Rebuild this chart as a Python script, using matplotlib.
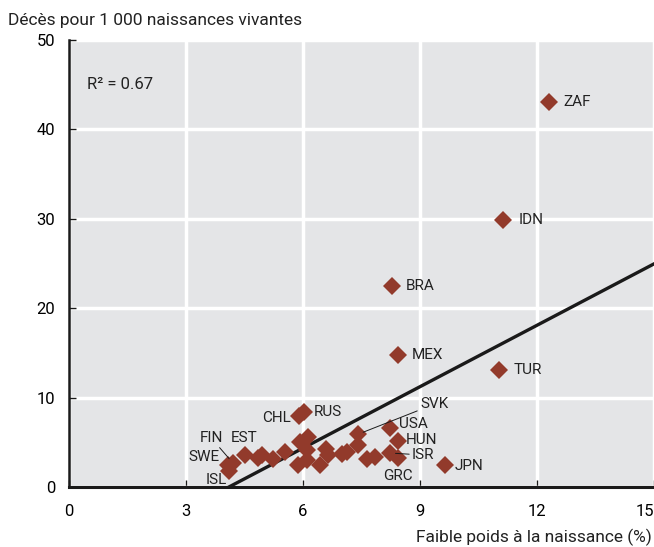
import matplotlib.pyplot as plt
import numpy as np

plt.rcParams['font.family'] = ['Roboto', 'DejaVu Sans']

# faible poids a la naissance (%) / mortalite infantile (deces pour 1 000)
pays = ["ISL", "SWE", "FIN", "EST", "", "", "", "", "", "", "", "", "",
        "CHL", "RUS", "", "", "", "", "", "SVK", "", "", "",
        "USA", "HUN", "ISR", "GRC", "JPN", "BRA", "MEX", "TUR", "IDN", "ZAF"]
lbw = np.array([4.1, 4.08, 4.2, 4.5, 4.85, 4.95, 5.23, 5.54, 5.87, 5.92, 6.13, 6.1, 6.1,
                5.9, 6.03, 6.44, 6.6, 6.64, 7.0, 7.13, 7.41, 7.41, 7.64, 7.85,
                8.23, 8.44, 8.23, 8.44, 9.64, 8.28, 8.44, 11.03, 11.13, 12.31])
mort = np.array([1.8, 2.46, 2.7, 3.6, 3.2, 3.6, 3.1, 3.9, 2.46, 5.0, 5.6, 4.1, 3.0,
                 7.9, 8.4, 2.46, 4.25, 3.6, 3.7, 3.9, 5.9, 4.7, 3.1, 3.36,
                 6.6, 5.15, 3.8, 3.24, 2.46, 22.5, 14.77, 13.09, 29.87, 43.07])

pente = 2.29
ordonnee = -9.39

# decalage des etiquettes en pixels (dx, dy, alignement)
decal = {"ISL": (-2, -9, 'right'), "SWE": (-9, 8, 'right'), "FIN": (-10, 25, 'right'),
         "EST": (0, 17, 'center'), "CHL": (-8, -2, 'right'), "RUS": (10, 0, 'left'),
         "SVK": (62, 30, 'left'), "USA": (9, 4, 'left'), "HUN": (8, 1, 'left'),
         "ISR": (22, -2, 'left'), "GRC": (0, -18, 'center'), "JPN": (10, -1, 'left'),
         "BRA": (14, 0, 'left'), "MEX": (14, 0, 'left'), "TUR": (14, 0, 'left'),
         "IDN": (16, 0, 'left'), "ZAF": (14, 0, 'left')}
rappel = ["FIN", "SVK", "ISR"]
px = 72 / 100

fig = plt.figure(figsize=(6.54, 5.47), dpi=100)
ax = fig.add_axes([69/654, 1-487/547, 1-69/654, 447/547])
ax.set_facecolor('#e4e5e7')

ax.set_xlim(0, 15)
ax.set_ylim(0, 50)
ax.set_xticks([0, 3, 6, 9, 12, 15])
ax.set_yticks([0, 10, 20, 30, 40, 50])
ax.grid(True, color='white', linewidth=2.5)
ax.set_axisbelow(True)
for s in ['top', 'right']:
    ax.spines[s].set_visible(False)
ax.spines['bottom'].set_linewidth(2.2)
ax.spines['left'].set_linewidth(1.8)
ax.spines['bottom'].set_color('#1a1a1a')
ax.spines['left'].set_color('#1a1a1a')
ax.tick_params(axis='x', direction='in', length=5, labelsize=12, pad=12, width=1, color='#1a1a1a')
ax.tick_params(axis='y', direction='in', length=5, labelsize=12, pad=10, width=1, color='#1a1a1a')
ax.get_xticklabels()[-1].set_horizontalalignment('right')

xx = np.array([0, 15])
ax.plot(xx, pente*xx + ordonnee, color='#1a1a1a', linewidth=2.4, zorder=2)

ax.plot(lbw, mort, 'D', color='#923a2b', markersize=9, markeredgewidth=0, zorder=3)

for nom, x, y in zip(pays, lbw, mort):
    if not nom:
        continue
    dx, dy, ha = decal[nom]
    fleche = None
    if nom in rappel:
        fleche = dict(arrowstyle='-', color='#1a1a1a', lw=0.7, shrinkA=0, shrinkB=4)
    ax.annotate(nom, (x, y), xytext=(dx*px, dy*px), textcoords='offset points',
                fontsize=11, va='center', ha=ha, color='#222222', arrowprops=fleche)

ax.text(0.45, 45, "R² = 0.67", fontsize=12, va='center', color='#222222')
fig.text(8/654, 1-20/547, "Décès pour 1 000 naissances vivantes", fontsize=12.5, va='center', color='#222222')
fig.text(1-2/654, 1-537/547, "Faible poids à la naissance (%)", fontsize=12.5, va='center', ha='right', color='#222222')

fig.savefig('out.png', dpi=100)
